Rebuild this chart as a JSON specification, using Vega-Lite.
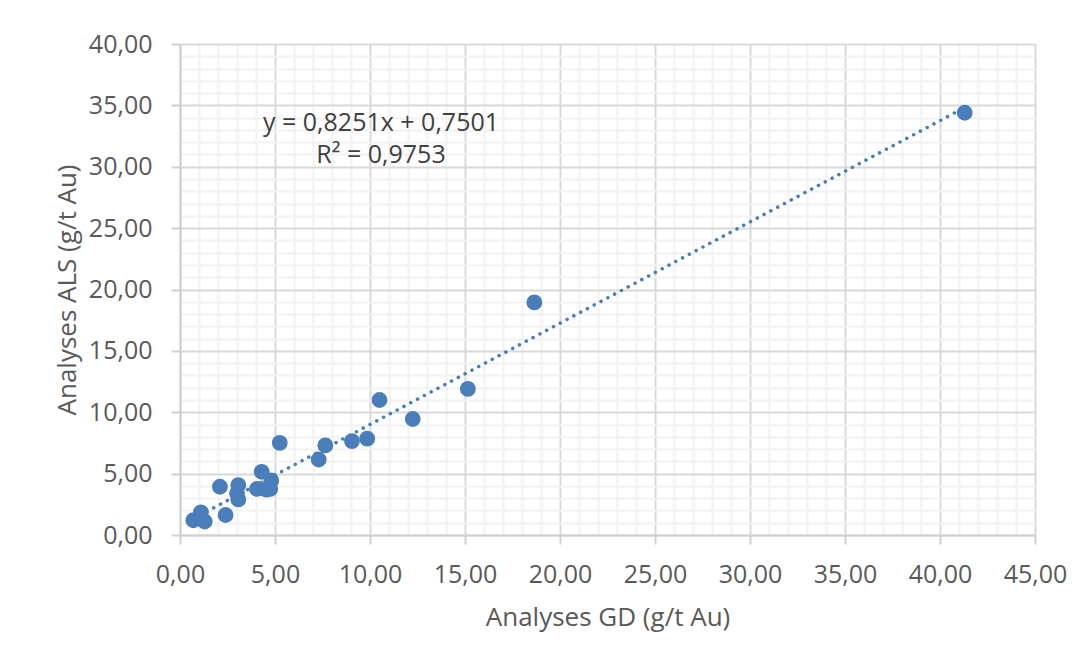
{
  "$schema": "https://vega.github.io/schema/vega-lite/v6.json",
  "width": 855,
  "height": 491,
  "autosize": "none",
  "padding": {"left": 180, "top": 44, "right": 51, "bottom": 127},
  "background": "#ffffff",
  "datasets": {
    "pts": [
      {"gd": 41.3, "als": 34.4},
      {"gd": 18.65, "als": 18.95},
      {"gd": 15.15, "als": 11.9},
      {"gd": 12.25, "als": 9.45},
      {"gd": 10.5, "als": 11.0},
      {"gd": 9.85, "als": 7.85},
      {"gd": 9.05, "als": 7.65},
      {"gd": 7.65, "als": 7.3},
      {"gd": 7.3, "als": 6.15},
      {"gd": 5.25, "als": 7.5},
      {"gd": 4.3, "als": 5.15},
      {"gd": 4.8, "als": 4.45},
      {"gd": 4.75, "als": 3.75},
      {"gd": 4.05, "als": 3.75},
      {"gd": 4.55, "als": 3.7},
      {"gd": 3.07, "als": 4.07},
      {"gd": 3.0, "als": 3.4},
      {"gd": 3.07, "als": 2.9},
      {"gd": 2.1, "als": 3.93},
      {"gd": 2.4, "als": 1.63},
      {"gd": 1.1, "als": 1.85},
      {"gd": 0.7, "als": 1.2},
      {"gd": 1.3, "als": 1.1}
    ],
    "trend": [
      {"gd": 0.7, "als": 1.328},
      {"gd": 41.3, "als": 34.827}
    ],
    "eq": [
      {"gd": 10.58, "als": 33.55, "t": "y = 0,8251x + 0,7501"},
      {"gd": 10.58, "als": 30.95, "t": "R² = 0,9753"}
    ]
  },
  "layer": [
    {
      "data": {"name": "pts"},
      "mark": {"type": "point", "opacity": 0},
      "encoding": {
        "x": {
          "field": "gd", "type": "quantitative",
          "scale": {"domain": [0, 45], "nice": false, "zero": false},
          "axis": {
            "orient": "top",
            "values": [1,2,3,4,6,7,8,9,11,12,13,14,16,17,18,19,21,22,23,24,26,27,28,29,31,32,33,34,36,37,38,39,41,42,43,44],
            "grid": true, "gridColor": "#f2f2f2", "gridWidth": 2,
            "labels": false, "ticks": false, "domain": false, "title": null
          }
        },
        "y": {
          "field": "als", "type": "quantitative",
          "scale": {"domain": [0, 40], "nice": false, "zero": false},
          "axis": {
            "orient": "right",
            "values": [1,2,3,4,6,7,8,9,11,12,13,14,16,17,18,19,21,22,23,24,26,27,28,29,31,32,33,34,36,37,38,39],
            "grid": true, "gridColor": "#f2f2f2", "gridWidth": 2,
            "labels": false, "ticks": false, "domain": false, "title": null
          }
        }
      }
    },
    {
      "data": {"name": "trend"},
      "mark": {"type": "line", "color": "#4a7ebb", "strokeWidth": 3.5, "strokeDash": [0.1, 7.6], "strokeCap": "round"},
      "encoding": {
        "x": {"field": "gd", "type": "quantitative", "axis": null},
        "y": {"field": "als", "type": "quantitative", "axis": null}
      }
    },
    {
      "data": {"name": "pts"},
      "mark": {"type": "circle", "color": "#4a7ebb", "opacity": 1, "size": 250},
      "encoding": {
        "x": {
          "field": "gd", "type": "quantitative",
          "axis": {
            "orient": "bottom",
            "values": [0,5,10,15,20,25,30,35,40,45],
            "labelExpr": "replace(format(datum.value, '.2f'), '.', ',')",
            "labelOverlap": false, "labelFlush": false,
            "grid": true, "gridColor": "#d9d9d9", "gridWidth": 2,
            "tickSize": 9, "labelPadding": 18,
            "title": "Analyses GD (g/t Au)",
            "titleY": 90, "titleBaseline": "alphabetic"
          }
        },
        "y": {
          "field": "als", "type": "quantitative",
          "axis": {
            "orient": "left",
            "values": [0,5,10,15,20,25,30,35,40],
            "labelExpr": "replace(format(datum.value, '.2f'), '.', ',')",
            "labelOverlap": false, "labelFlush": false,
            "grid": true, "gridColor": "#d9d9d9", "gridWidth": 2,
            "tickSize": 9, "labelPadding": 19,
            "title": "Analyses ALS (g/t Au)",
            "titleX": -105, "titleBaseline": "alphabetic"
          }
        }
      }
    },
    {
      "data": {"name": "eq"},
      "mark": {"type": "text", "font": "Open Sans", "fontSize": 25, "color": "#404040", "align": "center", "baseline": "middle"},
      "encoding": {
        "x": {"field": "gd", "type": "quantitative", "axis": null},
        "y": {"field": "als", "type": "quantitative", "axis": null},
        "text": {"field": "t"}
      }
    }
  ],
  "resolve": {"axis": {"x": "independent", "y": "independent"}},
  "config": {
    "view": {"stroke": null},
    "axis": {
      "labelFont": "Open Sans", "labelFontSize": 25, "labelColor": "#595959",
      "titleFont": "Open Sans", "titleFontSize": 26, "titleColor": "#595959", "titleFontWeight": "normal",
      "domainColor": "#d0d0d0", "domainWidth": 2, "tickColor": "#d0d0d0", "tickWidth": 2
    }
  }
}
